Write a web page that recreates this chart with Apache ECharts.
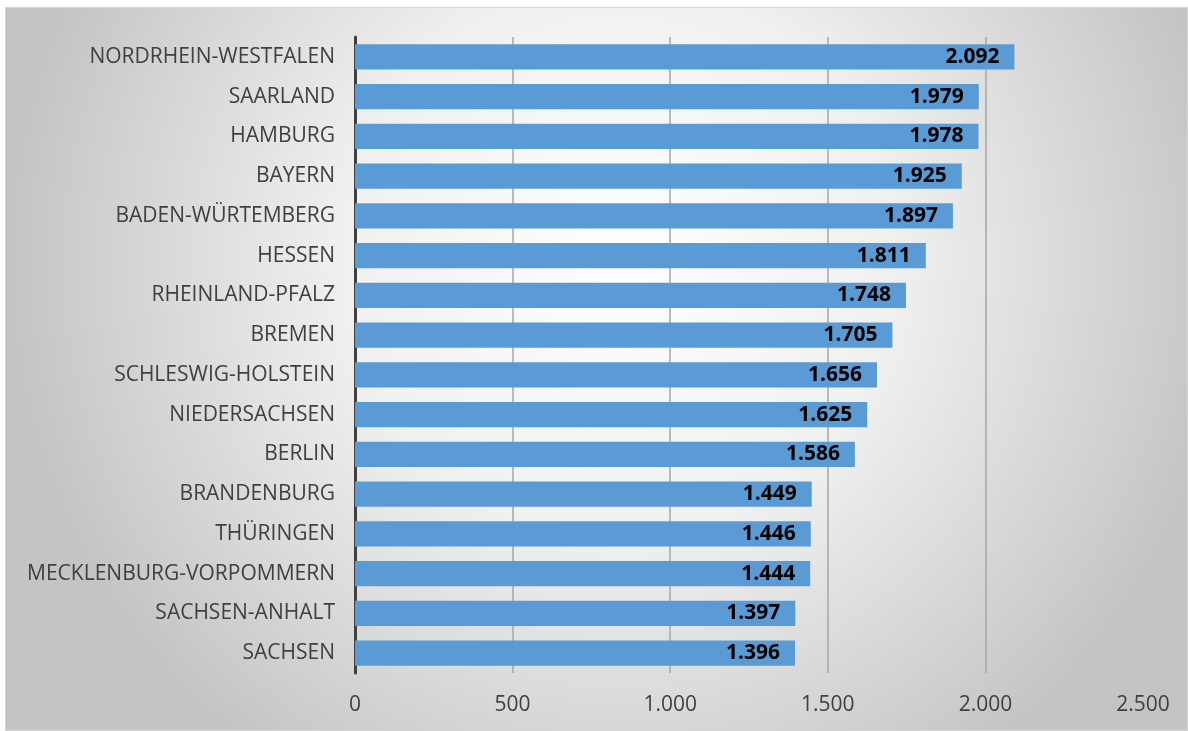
<!DOCTYPE html>
<html>
<head>
<meta charset="utf-8">
<script src="https://cdn.jsdelivr.net/npm/echarts@6/dist/echarts.min.js"></script>
<style>
html,body{margin:0;padding:0;background:#fff;}
#wrap{position:absolute;left:5px;top:7px;width:1183px;height:724px;border:1px solid #d4d4d4;box-sizing:border-box;}
#chart{width:100%;height:100%;}
</style>
</head>
<body>
<div id="wrap"><div id="chart"></div></div>
<script>
const categories = ["NORDRHEIN-WESTFALEN","SAARLAND","HAMBURG","BAYERN","BADEN-WÜRTEMBERG","HESSEN","RHEINLAND-PFALZ","BREMEN","SCHLESWIG-HOLSTEIN","NIEDERSACHSEN","BERLIN","BRANDENBURG","THÜRINGEN","MECKLENBURG-VORPOMMERN","SACHSEN-ANHALT","SACHSEN"];
const values = [2092,1979,1978,1925,1897,1811,1748,1705,1656,1625,1586,1449,1446,1444,1397,1396];
const xTicks = [0,500,1000,1500,2000,2500];

function fmt(v){ return String(v).replace(/\B(?=(\d{3})+(?!\d))/g,'.'); }

const chart = echarts.init(document.getElementById('chart'));
chart.setOption({
  backgroundColor: {type:'radial', x:0.52, y:0.35, r:0.85, colorStops:[{offset:0,color:'#ffffff'},{offset:0.45,color:'#f0f0f0'},{offset:1,color:'#c4c4c4'}]},
  animation:false,
  grid:{left:349, right:44, top:29, bottom:57, containLabel:false},
  xAxis:{type:'value', min:xTicks[0], max:xTicks[xTicks.length-1], interval:500,
    axisLine:{show:false}, axisTick:{show:false},
    axisLabel:{margin:22, fontSize:21, color:'#404040', fontFamily:'Open Sans', formatter:fmt},
    splitLine:{show:true, showMinLine:false, showMaxLine:false, lineStyle:{color:'#a6a6a6', width:1.5}}},
  yAxis:{type:'category', data:categories, inverse:true,
    axisLine:{show:true, lineStyle:{color:'#404040', width:3}},
    axisTick:{show:false},
    axisLabel:{margin:20, fontSize:21, color:'#404040', fontFamily:'Open Sans'}},
  series:[{type:'bar', data:values, barCategoryGap:'37%',
    itemStyle:{color:'#5b9bd5'},
    label:{show:true, position:'insideRight', distance:15, fontSize:21, fontWeight:'bold', color:'#000', fontFamily:'Open Sans', formatter:p=>fmt(p.value)}}]
});
</script>
</body>
</html>
